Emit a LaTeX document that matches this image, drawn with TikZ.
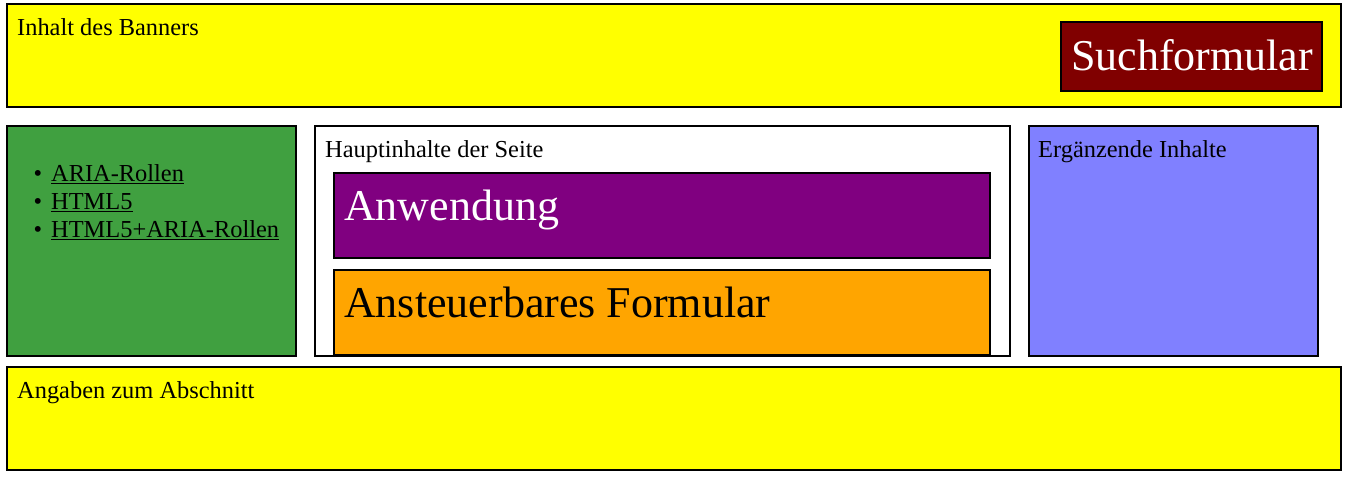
\documentclass[tikz,border=0pt]{standalone}
\usepackage{fontspec}
\setmainfont{Liberation Serif}
\definecolor{banner}{HTML}{FFFF00}
\definecolor{suche}{HTML}{800000}
\definecolor{navgreen}{HTML}{40A040}
\definecolor{appviolet}{HTML}{800080}
\definecolor{formorange}{HTML}{FFA500}
\definecolor{asideblue}{HTML}{8080FF}
\newcommand\myul[1]{\setbox0\hbox{#1}\rlap{\rule[-3pt]{\wd0}{1.5pt}}\box0}
\begin{document}
\begin{tikzpicture}[x=1pt,y=-1pt,
  region/.style={draw=black,line width=2pt},
  small/.style={anchor=base west,inner sep=0pt,font=\fontsize{24.4}{28}\selectfont},
  big/.style={anchor=base west,inner sep=0pt,font=\fontsize{44}{50}\selectfont}]
\useasboundingbox (0,0) rectangle (1347,479);
% banner
\path[region,fill=banner] (7,4) rectangle (1341,107);
\node[small] (bannertext) at (17,35) {Inhalt des Banners};
\path[region,fill=suche] (1061,22) rectangle (1322,91);
\node[big,text=white] (such) at (1071,70) {Suchformular};
% navigation
\path[region,fill=navgreen] (7,126) rectangle (296,356);
\node[small,anchor=base] (b1) at (38,181) {•};
\node[small] (l1) at (51,181) {\myul{ARIA-Rollen}};
\node[small,anchor=base] (b2) at (38,209) {•};
\node[small] (l2) at (51,209) {\myul{HTML5}};
\node[small,anchor=base] (b3) at (38,237) {•};
\node[small] (l3) at (51,237) {\myul{HTML5+ARIA-Rollen}};
% main
\path[region,fill=white] (315,126) rectangle (1010,356);
\node[small] (maintext) at (325,157) {Hauptinhalte der Seite};
\path[region,fill=appviolet] (334,173) rectangle (990,258);
\node[big,text=white] (app) at (344,220) {Anwendung};
\path[region,fill=formorange] (334,270) rectangle (990,355);
\node[big] (form) at (344,317) {Ansteuerbares Formular};
% aside
\path[region,fill=asideblue] (1029,126) rectangle (1318,356);
\node[small] (asidetext) at (1038,157) {Ergänzende Inhalte};
% footer
\path[region,fill=banner] (7,367) rectangle (1341,470);
\node[small] (foot) at (17,398) {Angaben zum Abschnitt};
\end{tikzpicture}
\end{document}
